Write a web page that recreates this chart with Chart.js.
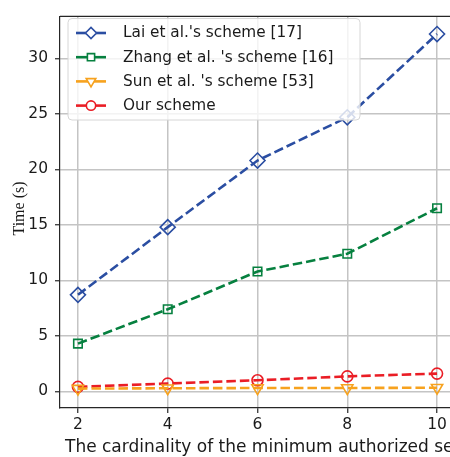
<!DOCTYPE html>
<html>
<head>
<meta charset="utf-8">
<script src="https://cdn.jsdelivr.net/npm/chart.js@4/dist/chart.umd.min.js"></script>
<style>
  html, body { margin: 0; padding: 0; background: #fff; overflow: hidden; }
  #clip { position: absolute; left: 0; top: 0; width: 450px; height: 457px; overflow: hidden; }
  #c { display: block; }
</style>
</head>
<body>
<div id="clip"><canvas id="c" width="470" height="457"></canvas></div>
<script>
// Number of attributes in the minimum authorized set
const setSizes = [2, 4, 6, 8, 10];
const xTicks = [2, 4, 6, 8, 10];
const yTicks = [0, 5, 10, 15, 20, 25, 30];

// Computation time in seconds
const laiTimes   = [8.7, 14.8, 20.8, 24.7, 32.2];
const zhangTimes = [4.3, 7.4, 10.8, 12.4, 16.5];
const sunTimes   = [0.25, 0.28, 0.3, 0.3, 0.33];
const ourTimes   = [0.4, 0.7, 1.0, 1.35, 1.6];

const seriesNames = ["Lai et al.'s scheme [17]", "Zhang et al. 's scheme [16]", "Sun et al. 's scheme [53]", "Our scheme"];
const xTitle = 'The cardinality of the minimum authorized set';
const yTitle = 'Time (s)';

const FONT = "'DejaVu Sans', sans-serif";
const SERIF = "'Liberation Serif', 'Times New Roman', serif";
const INK = '#1a1a1a';

function pts(vals) { return setSizes.map((x, i) => ({ x: x, y: vals[i] })); }

function series(label, vals, color, style, radius, rotation) {
  return {
    label: label,
    data: pts(vals),
    borderColor: color,
    backgroundColor: 'rgba(0,0,0,0)',
    borderWidth: 2.6,
    borderDash: [9.5, 4],
    pointStyle: style,
    pointRadius: radius,
    pointHoverRadius: radius,
    pointRotation: rotation || 0,
    pointBorderColor: color,
    pointBackgroundColor: 'rgba(0,0,0,0)',
    pointBorderWidth: 1.6,
    tension: 0
  };
}

const datasets = [
  series(seriesNames[0], laiTimes, '#2b4ea2', 'rectRot', 7.5),
  series(seriesNames[1], zhangTimes, '#06803f', 'rect', 6),
  series(seriesNames[2], sunTimes, '#f7a21e', 'triangle', 6.5, 180),
  series(seriesNames[3], ourTimes, '#ea1d25', 'circle', 5.5)
];

// Top spine, axis titles and the in-plot legend
const framePlugin = {
  id: 'frame',
  afterDraw(chart) {
    const ctx = chart.ctx;
    const a = chart.chartArea;
    ctx.save();
    ctx.strokeStyle = '#262626';
    ctx.lineWidth = 1.2;
    ctx.beginPath();
    ctx.moveTo(a.left, a.top);
    ctx.lineTo(a.right + 5, a.top);
    ctx.stroke();

    // axis titles
    ctx.fillStyle = INK;
    ctx.font = '17px ' + FONT;
    ctx.textAlign = 'left';
    ctx.textBaseline = 'alphabetic';
    ctx.fillText(xTitle, 65, 451.5);

    ctx.save();
    ctx.translate(24, 208.5);
    ctx.rotate(-Math.PI / 2);
    ctx.font = '16px ' + SERIF;
    ctx.textAlign = 'center';
    ctx.fillText(yTitle, 0, 0);
    ctx.restore();

    // legend box
    const bx = 68, by = 18.5, bw = 292, bh = 101.5, r = 4;
    ctx.beginPath();
    ctx.moveTo(bx + r, by);
    ctx.arcTo(bx + bw, by, bx + bw, by + bh, r);
    ctx.arcTo(bx + bw, by + bh, bx, by + bh, r);
    ctx.arcTo(bx, by + bh, bx, by, r);
    ctx.arcTo(bx, by, bx + bw, by, r);
    ctx.closePath();
    ctx.fillStyle = 'rgba(255,255,255,0.8)';
    ctx.fill();
    ctx.strokeStyle = '#d6d6d6';
    ctx.lineWidth = 1;
    ctx.stroke();

    chart.data.datasets.forEach((ds, i) => {
      const y = 33 + i * 24.2;
      ctx.strokeStyle = ds.borderColor;
      ctx.lineWidth = ds.borderWidth;
      ctx.setLineDash([]);
      ctx.beginPath();
      ctx.moveTo(76, y);
      ctx.lineTo(106, y);
      ctx.stroke();
      const mr = Math.min(ds.pointRadius, 6.5) * 0.85;
      Chart.helpers.drawPoint(ctx, {
        pointStyle: ds.pointStyle, rotation: ds.pointRotation,
        radius: mr, borderWidth: 0
      }, 91, y);
      ctx.fillStyle = '#ffffff';
      ctx.fill();
      ctx.strokeStyle = ds.borderColor;
      ctx.lineWidth = ds.pointBorderWidth;
      Chart.helpers.drawPoint(ctx, {
        pointStyle: ds.pointStyle, rotation: ds.pointRotation,
        radius: mr, borderWidth: ds.pointBorderWidth
      }, 91, y);
      ctx.fillStyle = INK;
      ctx.font = '15.3px ' + FONT;
      ctx.textBaseline = 'middle';
      ctx.textAlign = 'left';
      ctx.fillText(ds.label, 123, y + 0.5);
    });
    ctx.restore();
  }
};

new Chart(document.getElementById('c'), {
  type: 'line',
  data: { datasets: datasets },
  plugins: [framePlugin],
  options: {
    responsive: false,
    animation: false,
    layout: { padding: { top: 10, right: 15, left: 0, bottom: 0 } },
    plugins: { legend: { display: false }, tooltip: { enabled: false } },
    scales: {
      x: {
        type: 'linear',
        min: 1.6,
        max: 10.4,
        afterBuildTicks(s) { s.ticks = xTicks.map(v => ({ value: v })); },
        afterFit(s) { s.height = 49; },
        grid: { color: '#c4c4c4', lineWidth: 1.5, tickColor: '#262626', tickLength: 5, tickWidth: 1.2 },
        border: { display: true, color: '#262626', width: 1.2 },
        ticks: { color: INK, font: { family: FONT, size: 15.5 }, padding: 3, maxRotation: 0 }
      },
      y: {
        type: 'linear',
        min: -1.5,
        max: 33.8,
        afterBuildTicks(s) { s.ticks = yTicks.map(v => ({ value: v })); },
        afterFit(s) { s.width = 60; },
        grid: { color: '#c4c4c4', lineWidth: 1.5, tickColor: '#262626', tickLength: 5, tickWidth: 1.2 },
        border: { display: true, color: '#262626', width: 1.2 },
        ticks: { color: INK, font: { family: FONT, size: 15.5 }, padding: 7 }
      }
    }
  }
});
</script>
</body>
</html>
